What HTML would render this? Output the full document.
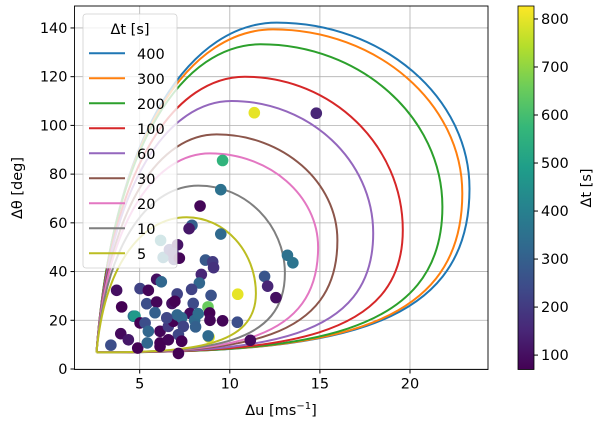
<!DOCTYPE html>
<html><head><meta charset="utf-8"><style>
body{margin:0;background:#fff;}
svg text{font-family:"DejaVu Sans","Liberation Sans",sans-serif;fill:#000;}
</style></head><body>
<svg id="c" width="600" height="428" xmlns="http://www.w3.org/2000/svg"></svg>
<script>
const curveLabels=['400','300','200','100','60','30','20','10','5'];
const curveColors=['#1f77b4','#ff7f0e','#2ca02c','#d62728','#9467bd','#8c564b','#e377c2','#7f7f7f','#bcbd22'];
const apexU=2.6, apexTheta=6.8;
const topU=[12.6,12.4,11.7,10.84,10.1,9.27,8.9,8.25,7.6];
const topTheta=[142.2,139.4,133.3,120,110,96.3,88.5,75.3,62.3];
const rightU=[23.3,22.9,21.8,19.6,17.96,15.97,14.9,13.06,11.45];
const rightTheta=[74,72.1,66.6,57,55.7,52.8,50,39.3,31];
const ptU=[11.36,14.8,9.6,9.5,8.35,7.9,7.74,9.5,13.2,13.5,11.93,12.1,12.56,10.44,10.42,9.6,11.14,8.85,8.79,8.96,8.88,6.16,6.3,6.65,6.9,7.1,6.85,7.2,8.65,9.05,9.1,8.42,8.31,7.88,7.08,6.79,6.95,7.97,7.79,8.05,8.1,5.94,6.2,5.02,5.48,3.72,4.0,5.39,5.94,5.85,4.65,4.74,5.02,5.3,5.48,6.13,6.59,6.87,7.33,7.42,7.15,7.33,6.13,6.59,6.13,3.95,4.37,4.89,5.42,3.4,7.15,8.9,8.25,7.08,6.5,8.8];
const ptTheta=[105.2,105,85.6,73.6,66.9,59,57.6,55.4,46.7,43.6,38,34,29.3,30.7,19.2,19.8,11.8,13.1,25.5,30.2,23,52.8,45.8,49,45,51,47.5,45.5,44.7,44,41.6,38.8,35.3,32.7,30.8,26.9,27.8,26.9,22.8,20,17.3,36.8,35.8,33,32.3,32.3,25.5,26.8,27.5,23.1,21.7,21.7,18.9,18.9,15.5,15.5,17.5,19.6,21,17.5,14.1,11.4,10.7,12,9.3,14.5,12,8.6,10.7,9.8,6.4,20,22.7,22.2,21,13.6];
const ptVal=[800,150,560,350,80,300,120,330,350,360,270,150,100,800,250,80,90,790,650,260,60,420,380,200,190,110,170,80,280,200,180,150,320,220,220,100,60,240,90,330,300,100,320,220,80,100,70,250,80,300,360,480,60,250,320,80,200,60,330,220,230,60,30,80,60,90,120,40,320,250,50,80,340,320,230,330];
const xTicks=[5,10,15,20];
const yTicks=[0,20,40,60,80,100,120,140];
const cbTicks=[100,200,300,400,500,600,700,800];

const NS='http://www.w3.org/2000/svg';
const svg=document.getElementById('c');
function mk(tag,attrs,parent){const e=document.createElementNS(NS,tag);for(const k in attrs)e.setAttribute(k,attrs[k]);(parent||svg).appendChild(e);return e;}
const L=74.5,R=488,T=6,B=369.5;
const X=u=>49.6+u*18.02;
const Y=t=>369-t*2.436;
const vmin=70,vmax=827;
const vir=[[68,1,84],[72,40,120],[62,74,137],[49,104,142],[38,130,142],[31,158,137],[53,183,121],[109,205,89],[180,222,44],[253,231,37]];
function cmap(v){let f=(v-vmin)/(vmax-vmin);f=Math.max(0,Math.min(1,f))*(vir.length-1);const i=Math.min(Math.floor(f),vir.length-2),r=f-i;const c=vir[i].map((a,k)=>Math.round(a+(vir[i+1][k]-a)*r));return 'rgb('+c.join(',')+')';}

const defs=mk('defs',{});
const cp=mk('clipPath',{id:'pc'},defs);mk('rect',{x:L,y:T,width:R-L,height:B-T},cp);
const grad=mk('linearGradient',{id:'vg',x1:0,y1:1,x2:0,y2:0},defs);
for(let i=0;i<vir.length;i++){mk('stop',{offset:i/(vir.length-1),'stop-color':'rgb('+vir[i].join(',')+')'},grad);}

for(const v of xTicks){const g=mk('line',{x1:X(v),x2:X(v),y1:T,y2:B,stroke:'#b0b0b0','stroke-width':0.8});

}
for(const v of yTicks){const g=mk('line',{x1:L,x2:R,y1:Y(v),y2:Y(v),stroke:'#b0b0b0','stroke-width':0.8});

}

const cg=mk('g',{'clip-path':'url(#pc)'});
for(let i=0;i<curveLabels.length;i++){
  const du=topU[i]-apexU,dt=topTheta[i]-apexTheta;
  const p=[
   [apexU,apexTheta],
   [apexU+0.1*du,apexTheta+0.7*dt],[topU[i]-0.45*du,topTheta[i]],[topU[i],topTheta[i]],
   [topU[i]+0.55*(rightU[i]-topU[i]),topTheta[i]],[rightU[i],rightTheta[i]+0.55*(topTheta[i]-rightTheta[i])],[rightU[i],rightTheta[i]],
   [rightU[i],rightTheta[i]-0.9*(rightTheta[i]-apexTheta)],[apexU+0.6*(rightU[i]-apexU),apexTheta],[apexU,apexTheta]];
  const P=p.map(q=>X(q[0]).toFixed(1)+','+Y(q[1]).toFixed(1));
  const d='M'+P[0]+' C'+P[1]+' '+P[2]+' '+P[3]+' C'+P[4]+' '+P[5]+' '+P[6]+' C'+P[7]+' '+P[8]+' '+P[9];
  const e=mk('path',{d:d,fill:'none',stroke:curveColors[i],'stroke-width':2},cg);
  
  
}
for(let i=0;i<ptU.length;i++){
  const e=mk('circle',{cx:X(ptU[i]),cy:Y(ptTheta[i]),r:5.8,fill:cmap(ptVal[i])},cg);
  
  
}
const fr=mk('rect',{x:L,y:T,width:R-L,height:B-T,fill:'none',stroke:'#000','stroke-width':0.9});


for(const v of xTicks){mk('line',{x1:X(v),x2:X(v),y1:B,y2:B+4,stroke:'#000'});
 const t=mk('text',{x:X(v),y:B+19,'text-anchor':'middle','font-size':14.5});t.textContent=v;
 
 }
for(const v of yTicks){mk('line',{x1:L-4,x2:L,y1:Y(v),y2:Y(v),stroke:'#000'});
 const t=mk('text',{x:L-7,y:Y(v)+5,'text-anchor':'end','font-size':14.5});t.textContent=v;
 
 }
const xl=mk('text',{x:281,y:415,'text-anchor':'middle','font-size':14.5});xl.innerHTML='Δu [ms<tspan dy="-6" font-size="10">−1</tspan><tspan dy="6">]</tspan>';


const yl=mk('text',{x:0,y:0,'text-anchor':'middle','font-size':14.5,transform:'translate(22,188) rotate(-90)'});yl.textContent='Δθ [deg]';



const lg=mk('g',{});


mk('rect',{x:83,y:14,width:94,height:254,rx:3,fill:'rgba(255,255,255,0.8)',stroke:'#d0d0d0','stroke-width':0.8},lg);
const lt=mk('text',{x:130,y:34,'text-anchor':'middle','font-size':14.5},lg);lt.textContent='Δt [s]';


for(let i=0;i<curveLabels.length;i++){
  const y=53.3+i*25;
  const ent=mk('g',{},lg);
  
  
  mk('line',{x1:89,x2:125,y1:y,y2:y,stroke:curveColors[i],'stroke-width':2},ent);
  const t=mk('text',{x:137,y:y+5.5,'font-size':14.5},ent);t.textContent=curveLabels[i];
}

const cb=mk('rect',{x:518,y:T,width:16,height:B-T,fill:'url(#vg)',stroke:'#000','stroke-width':0.8});


const CY=v=>B-(v-vmin)/(vmax-vmin)*(B-T);
for(const v of cbTicks){mk('line',{x1:534,x2:538,y1:CY(v),y2:CY(v),stroke:'#000'});
 const t=mk('text',{x:541,y:CY(v)+5,'font-size':14.5});t.textContent=v;
 
 }
const cl=mk('text',{x:0,y:0,'text-anchor':'middle','font-size':14.5,transform:'translate(591,188) rotate(-90)'});cl.textContent='Δt [s]';


</script>
</body></html>
